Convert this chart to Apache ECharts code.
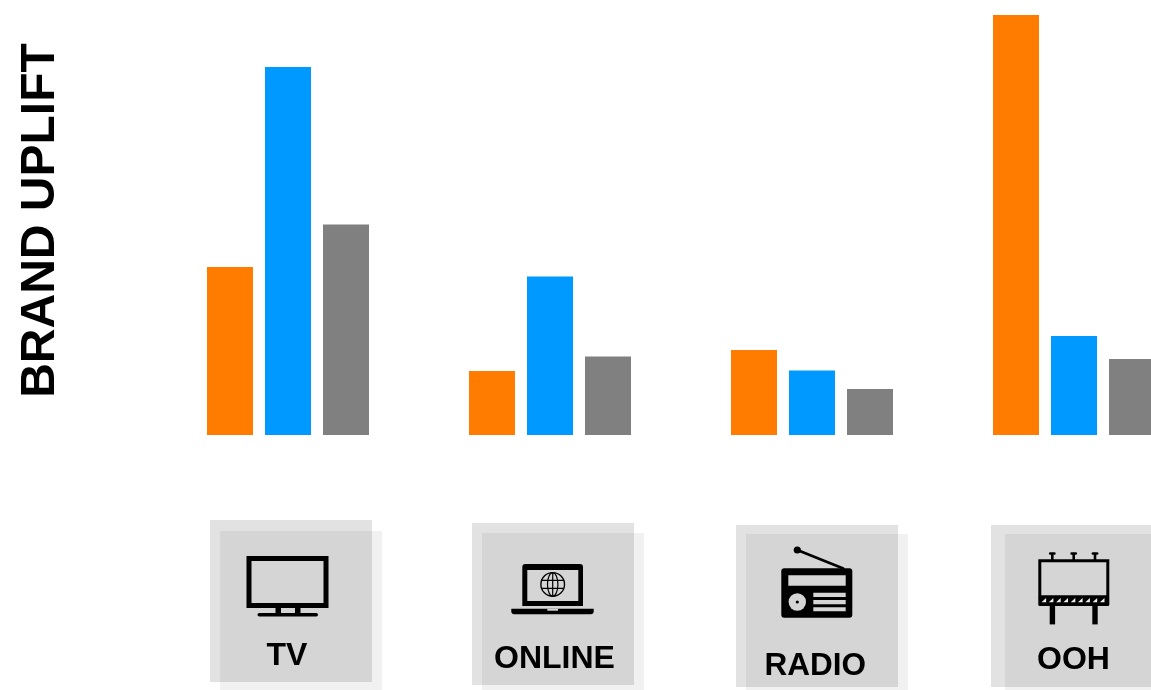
<!DOCTYPE html>
<html>
<head>
<meta charset="utf-8">
<style>
  html, body { margin: 0; padding: 0; background: #fff; overflow: hidden; }
  #main { width: 1151px; height: 690px; }
</style>
<script src="https://cdn.jsdelivr.net/npm/echarts@6/dist/echarts.min.js"></script>
</head>
<body>
<div id="main"></div>
<script>
// values, no axis in the original so units are arbitrary
const categories = ['TV', 'ONLINE', 'RADIO', 'OOH'];
const orangeValues = [168, 64, 85, 420];
const blueValues = [368, 158.5, 64.5, 99];
const greyValues = [210.5, 78.5, 46, 76];
const axisTitle = 'BRAND UPLIFT';

const ORANGE = '#ff7c00', BLUE = '#0099ff', GREY = '#808080';
const FONT = '"Liberation Sans", Arial, sans-serif';
const TILE = '#d5d5d5';
const BACK = 'rgba(0,0,0,0.115)', FRONT = 'rgba(0,0,0,0.055)';

let chart = echarts.init(document.getElementById('main'));

// small helpers for the icon tiles
function box(x, y, w, h, fill, r) {
  return { type: 'rect', shape: { x: x, y: y, width: w, height: h, r: r || 0 }, style: { fill: fill } };
}
function line(x1, y1, x2, y2, width, color) {
  return { type: 'line', shape: { x1: x1, y1: y1, x2: x2, y2: y2 },
    style: { stroke: color || '#000', lineWidth: width, lineCap: 'round' } };
}
function disc(cx, cy, r, fill) {
  return { type: 'circle', shape: { cx: cx, cy: cy, r: r }, style: { fill: fill } };
}
function label(text, cx, cy, size) {
  return { type: 'text', x: cx, y: cy,
    style: { text: text, font: 'bold ' + (size || 32) + 'px ' + FONT, fill: '#000', align: 'center', verticalAlign: 'middle' } };
}

function tvIcon() {
  return [
    box(246.5, 556, 82, 52, '#000'),
    box(251.5, 561, 72, 42, TILE),
    box(275.5, 607, 5.5, 7, '#000'),
    box(295, 607, 5.5, 7, '#000'),
    box(257.5, 613, 60.5, 3.5, '#000', 1.7)
  ];
}

function onlineIcon() {
  const cx = 552.7, cy = 584.4;
  return [
    box(522.3, 564, 60.7, 42, '#000', [3, 3, 0, 0]),
    box(527.3, 570, 51, 31, TILE),
    box(511.3, 608.7, 82.4, 5.6, '#000', [0, 0, 3, 3]),
    box(547.3, 608.7, 10.7, 2, TILE),
    { type: 'circle', shape: { cx: cx, cy: cy, r: 11.8 }, style: { fill: 'none', stroke: '#000', lineWidth: 1.4 } },
    { type: 'ellipse', shape: { cx: cx, cy: cy, rx: 5.2, ry: 11.8 }, style: { fill: 'none', stroke: '#000', lineWidth: 1.2 } },
    line(cx, cy - 11.8, cx, cy + 11.8, 1.2),
    line(cx - 10.6, cy - 4, cx + 10.6, cy - 4, 1.2),
    line(cx - 10.6, cy + 4, cx + 10.6, cy + 4, 1.2)
  ];
}

function radioIcon() {
  return [
    line(797.3, 550, 843.3, 568.5, 2.6),
    disc(797.3, 550, 3.6, '#000'),
    box(781.3, 568.3, 71, 49.4, '#000', 3),
    box(788.3, 575.3, 57.4, 10.4, TILE),
    disc(797.3, 602, 8.7, TILE),
    disc(797.3, 602, 1.6, '#000'),
    box(813.3, 592.7, 32.4, 4.2, TILE),
    box(813.3, 600, 32.4, 4.2, TILE),
    box(813.3, 607.3, 32.4, 4, TILE)
  ];
}

function oohIcon() {
  let parts = [
    box(1038.3, 559.3, 71, 39, '#000'),
    box(1041.3, 562.3, 65, 33, TILE),
    box(1038.3, 597, 71, 9, '#000', 1.5),
    box(1049.7, 605, 5.4, 19.4, '#000'),
    box(1092.3, 605, 5.4, 19.4, '#000')
  ];
  [1052.3, 1073.7, 1095].forEach(function (x) {
    parts.push(box(x - 1.3, 553, 2.6, 7, '#000'));
    parts.push(box(x - 3.4, 552.2, 6.8, 2.6, '#000', 1.3));
  });
  // little hatch marks in the billboard's lower band
  for (let i = 0; i < 9; i++) {
    const x = 1041.5 + i * 7.3;
    parts.push({ type: 'polygon', shape: { points: [[x, 602.3], [x + 4.6, 602.3], [x + 4.6, 598]] }, style: { fill: '#eeeeee' } });
  }
  return parts;
}

// tile positions were measured one by one, they are not on a regular grid
const graphics = [
  box(210, 520, 162, 162, BACK), box(220, 531, 162, 159, FRONT),
  box(472, 523, 162, 162, BACK), box(482, 533, 162, 157, FRONT),
  box(736, 525, 162, 162, BACK), box(746, 534, 162, 156, FRONT),
  box(991, 525, 160, 162, BACK), box(1005, 534, 146, 156, FRONT)
]
  .concat(tvIcon(), onlineIcon(), radioIcon(), oohIcon())
  .concat([
    label(categories[0], 287, 656),
    label(categories[1], 554.5, 659),
    label(categories[2], 815.3, 666.5, 31.5),
    label(categories[3], 1073.5, 660),
    { type: 'text', x: 40.5, y: 220.5, rotation: Math.PI / 2,
      style: { text: axisTitle, font: 'bold 48px ' + FONT, fill: '#000', align: 'center', verticalAlign: 'middle' } }
  ]);

function barSeries(name, values, color) {
  return { name: name, type: 'bar', data: values, barWidth: 46, barGap: '26.09%',
    itemStyle: { color: color }, silent: true };
}

chart.setOption({
  animation: false,
  backgroundColor: '#fff',
  // last band runs past the right edge of the page, the original crops the OOH grey bar
  grid: { left: 157, top: 15, width: 1048, height: 420, containLabel: false, outerBoundsMode: 'none' },
  xAxis: { type: 'category', data: categories, axisLine: { show: false }, axisTick: { show: false }, axisLabel: { show: false } },
  yAxis: { type: 'value', min: 0, max: 420, show: false },
  series: [
    barSeries('Orange', orangeValues, ORANGE),
    barSeries('Blue', blueValues, BLUE),
    barSeries('Grey', greyValues, GREY)
  ],
  graphic: graphics
});
</script>
</body>
</html>
